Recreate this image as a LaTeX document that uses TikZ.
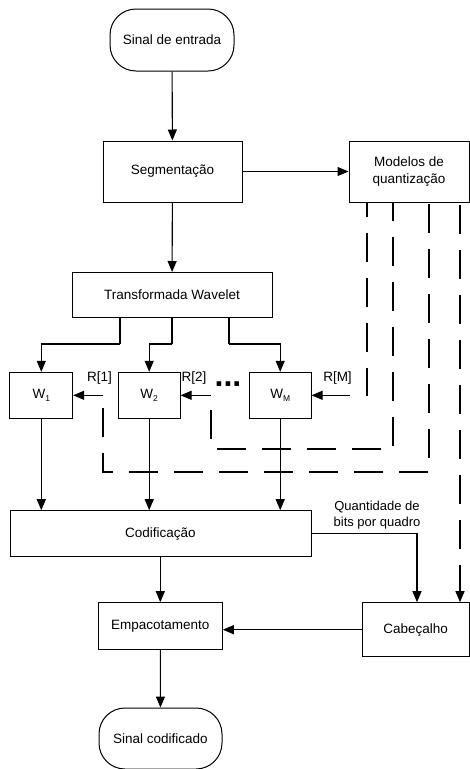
\documentclass[tikz,border=0pt]{standalone}
\usepackage{fontspec}
\setmainfont{Liberation Sans}
\usetikzlibrary{arrows.meta}
\begin{document}
\begin{tikzpicture}[x=1pt,y=-1pt,
  every node/.style={font=\fontsize{13.5}{17}\selectfont},
  box/.style={draw, line width=1pt, inner sep=0pt, align=center},
  term/.style={box, rounded corners=26pt},
  arr/.style={line width=1.1pt, -{Triangle[length=11pt,width=9pt]}},
  ln/.style={line width=1.1pt},
  dsh/.style={line width=1.1pt, dash pattern=on 29pt off 16pt},
  lbl/.style={inner sep=0pt}]
\useasboundingbox (0,0) rectangle (470,769);

% nodes
\node[term, minimum width=124pt, minimum height=62pt] (sin) at (172,40) {Sinal de entrada};
\node[box, minimum width=139pt, minimum height=61pt] (seg) at (172.5,171.5) {Segmentação};
\node[box, minimum width=120pt, minimum height=61pt] (mod) at (409,171.5) {Modelos de\\quantização};
\node[box, minimum width=200pt, minimum height=45pt] (tw) at (172,295) {Transformada Wavelet};
\node[box, minimum width=62.7pt, minimum height=46pt] (w1) at (41.3,395.3) {W\raisebox{-0.3ex}{\fontsize{8.5}{9}\selectfont 1}};
\node[box, minimum width=61.7pt, minimum height=46pt] (w2) at (149.2,395.3) {W\raisebox{-0.3ex}{\fontsize{8.5}{9}\selectfont 2}};
\node[box, minimum width=61.7pt, minimum height=46pt] (wm) at (280.2,395.3) {W\raisebox{-0.3ex}{\fontsize{8.5}{9}\selectfont M}};
\node[box, minimum width=301pt, minimum height=46pt] (cod) at (160.5,533.7) {Codificação};
\node[box, minimum width=124pt, minimum height=46.6pt] (emp) at (160.3,626) {Empacotamento};
\node[box, minimum width=107pt, minimum height=54pt] (cab) at (415.7,629.7) {Cabeçalho};
\node[term, minimum width=123pt, minimum height=61pt] (out) at (160.5,738.5) {Sinal codificado};

% labels
\node[lbl] (l1) at (99.5,378) {R[1]};
\node[lbl] (l2) at (194,378) {R[2]};
\node[lbl] (lm) at (337.5,378) {R[M]};
\node[lbl, anchor=base, font=\fontsize{32}{32}\selectfont\bfseries] (dots) at (228,386) {...};
\node[lbl, align=center, font=\fontsize{13}{16}\selectfont] (qb) at (377,515) {Quantidade de\\bits por quadro};

% coordinates
\coordinate (b1) at (120,344);
\coordinate (b2) at (172,344);
\coordinate (b3) at (229,344);
\coordinate (r2) at (211,449);
\coordinate (r3) at (103,472);

% main flow
\draw[arr] (sin) -- (seg);
\draw[arr] (seg) -- (mod);
\draw[arr] (seg) -- (tw);
\draw[ln] (tw.south -| b1) -- (b1);
\draw[arr] (b1) -| (w1.north);
\draw[ln] (tw.south -| b2) -- (b2);
\draw[arr] (b2) -| (w2.north);
\draw[ln] (tw.south -| b3) -- (b3);
\draw[arr] (b3) -| (wm.north);
\draw[arr] (w1.south) -- (w1.south |- cod.north);
\draw[arr] (w2.south) -- (w2.south |- cod.north);
\draw[arr] (wm.south) -- (wm.south |- cod.north);
\draw[arr] (cod.south -| emp.north) -- (emp.north);
\draw[arr] (emp) -- (out);
\draw[arr] (cod.east) -| (cab.north -| 417,0);
\draw[arr] (cab.west) -- (cab.west -| emp.east);

% dashed quantization paths
\draw[dsh, dash phase=15pt, arr] (mod.south -| 367,0) |- (wm.east);
\draw[dsh, dash phase=11pt] (mod.south -| 393,0) |- (r2) -- (r2 |- w2.east);
\draw[arr] (r2 |- w2.east) -- (w2.east);
\draw[dsh, dash phase=44pt] (mod.south -| 429,0) |- (r3) -- (r3 |- w1.east);
\draw[arr] (r3 |- w1.east) -- (w1.east);
\draw[dsh, dash phase=43pt, arr] (mod.south -| 460,0) -- (cab.north -| 460,0);
\end{tikzpicture}
\end{document}
